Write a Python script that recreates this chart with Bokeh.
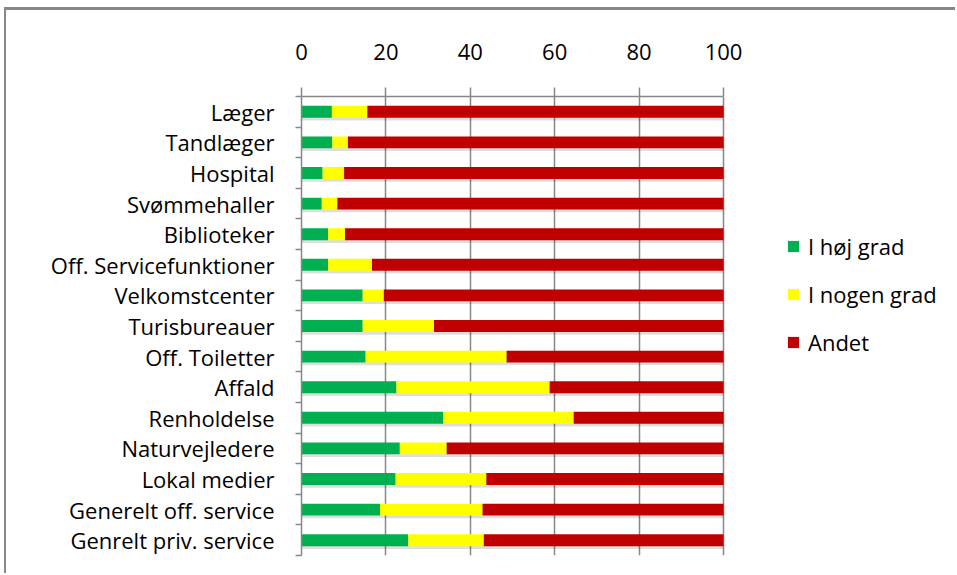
from bokeh.plotting import figure
from bokeh.models import ColumnDataSource, FixedTicker, Range1d, Legend, LegendItem
from bokeh.embed import file_html
from bokeh.resources import INLINE

# Services, listed top to bottom
services = [
    "Læger", "Tandlæger", "Hospital", "Svømmehaller", "Biblioteker",
    "Off. Servicefunktioner", "Velkomstcenter", "Turisbureauer", "Off. Toiletter",
    "Affald", "Renholdelse", "Naturvejledere", "Lokal medier",
    "Generelt off. service", "Genrelt priv. service",
]
hoej_grad = [7.2, 7.3, 5.0, 4.8, 6.3, 6.3, 14.5, 14.5, 15.2, 22.5, 33.6, 23.3, 22.3, 18.6, 25.3]
nogen_grad = [8.4, 3.7, 5.1, 3.7, 4.0, 10.4, 5.0, 16.9, 33.4, 36.3, 30.9, 11.1, 21.5, 24.3, 17.9]
andet = [84.4, 89.0, 89.9, 91.5, 89.7, 83.3, 80.5, 68.6, 51.4, 41.2, 35.5, 65.6, 56.2, 57.1, 56.8]

series = ["I høj grad", "I nogen grad", "Andet"]
colors = ["#00B050", "#FFFF00", "#C00000"]
x_ticks = [0, 20, 40, 60, 80, 100]

FONT = "Open Sans"
FS = "22px"
n = len(services)
ypos = [n - i - 0.5 for i in range(n)]
totals = [a + b + c for a, b, c in zip(hoej_grad, nogen_grad, andet)]

# the plotting frame runs to the right edge so the legend can sit beside the bars;
# the percentage scale itself occupies the first 422 px of it
W, H = 951, 566
LEFT, TOP, BOTTOM, RIGHT = 295, 86, 21, 4
frame_w = W - LEFT - RIGHT
x_end = 100 * frame_w / 422

src = ColumnDataSource(dict(
    y=ypos, shadow_y=[v - 0.09 for v in ypos], total=totals,
    hoej=hoej_grad, nogen=nogen_grad, andet=andet,
))

p = figure(width=W, height=H, output_backend="svg", toolbar_location=None,
           x_range=Range1d(0, x_end), y_range=Range1d(0, n),
           x_axis_location="above", min_border_left=LEFT, min_border_top=TOP,
           min_border_right=RIGHT, min_border_bottom=BOTTOM)
p.styles = {"margin-left": "4px", "margin-top": "7px",
            "border-left": "2px solid #878787", "border-top": "3px solid #878787"}
p.outline_line_color = None
p.background_fill_color = "white"
p.border_fill_color = "white"

# soft drop shadow under each bar
p.hbar(y="shadow_y", left=0, right="total", height=0.39, source=src,
       fill_color="black", fill_alpha=0.13, line_color=None)

bars = p.hbar_stack(["hoej", "nogen", "andet"], y="y", height=0.39, color=colors,
                    line_color=None, source=src)

# x axis on top
xa = p.xaxis[0]
xa.bounds = (0, 100)
xa.ticker = FixedTicker(ticks=x_ticks)
xa.axis_line_color = "#878787"
xa.axis_line_width = 1.5
xa.major_tick_line_color = "#878787"
xa.major_tick_line_width = 1.5
xa.major_tick_in = 0
xa.major_tick_out = 9
xa.minor_tick_line_color = None
xa.major_label_text_font = FONT
xa.major_label_text_font_size = FS
xa.major_label_text_color = "black"
xa.major_label_standoff = 28

# y axis: category names at bar centres, ticks between categories
ya = p.yaxis[0]
ya.ticker = FixedTicker(ticks=ypos, minor_ticks=list(range(n + 1)))
ya.major_label_overrides = {y: s for y, s in zip(ypos, services)}
ya.axis_line_color = "#878787"
ya.axis_line_width = 1.5
ya.major_tick_line_color = None
ya.major_tick_in = 0
ya.major_tick_out = 0
ya.minor_tick_line_color = "#878787"
ya.minor_tick_line_width = 1.5
ya.minor_tick_in = 0
ya.minor_tick_out = 6
ya.major_label_text_font = FONT
ya.major_label_text_font_size = FS
ya.major_label_text_color = "black"
ya.major_label_standoff = 21

p.xgrid.ticker = FixedTicker(ticks=x_ticks[1:])
p.xgrid.grid_line_color = "#878787"
p.xgrid.grid_line_width = 1.5
p.ygrid.grid_line_color = None

legend = Legend(items=[LegendItem(label=s, renderers=[r]) for s, r in zip(series, bars)],
                location=(485, 198), orientation="vertical")
legend.glyph_width = 14
legend.glyph_height = 14
legend.label_height = 24
legend.spacing = 18
legend.padding = 0
legend.margin = 0
legend.label_standoff = 8
legend.border_line_color = None
legend.background_fill_alpha = 0
legend.label_text_font = FONT
legend.label_text_font_size = FS
legend.label_text_color = "black"
p.add_layout(legend, "center")

open("out.html", "w").write(file_html(p, INLINE))
